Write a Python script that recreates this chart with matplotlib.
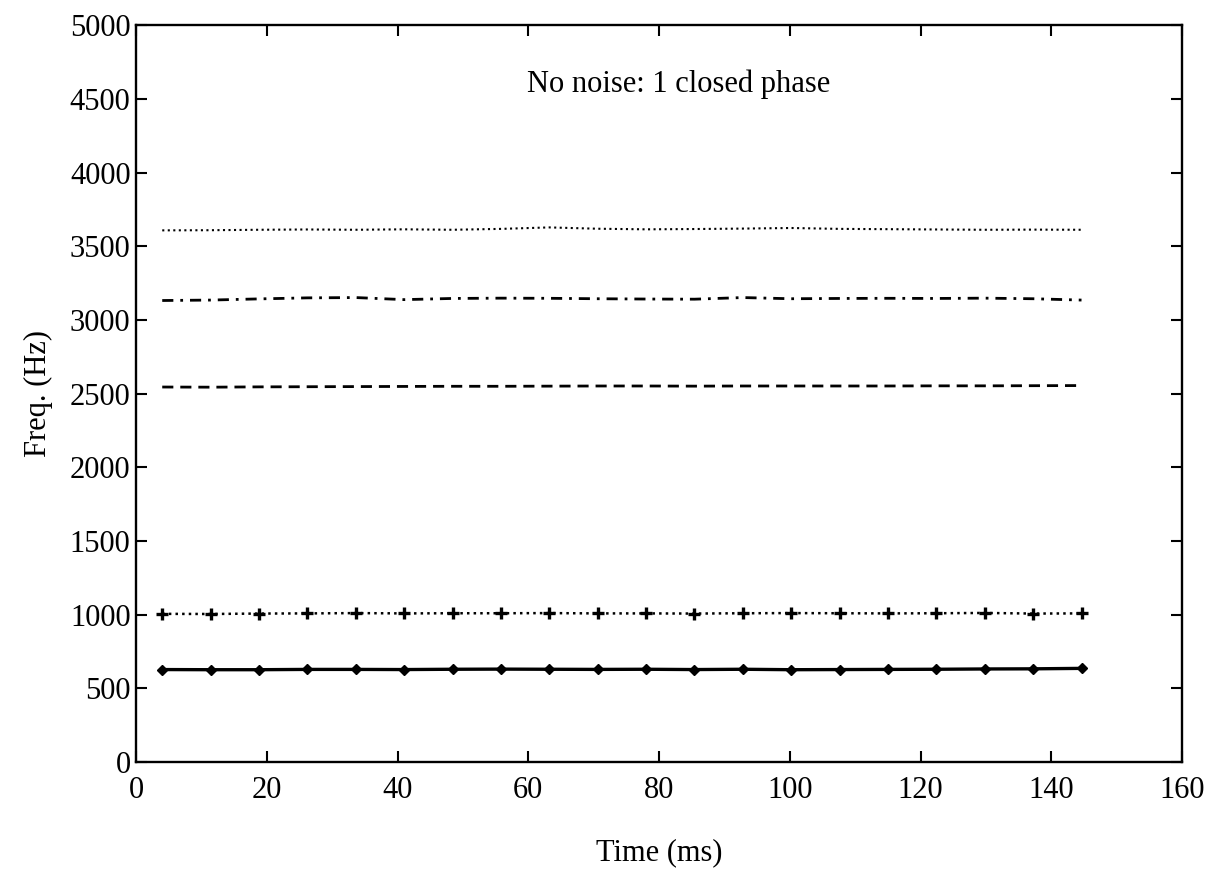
import matplotlib.pyplot as plt

# time axis (ms) for the 20 analysis frames
time_ms = [4, 11.4, 18.8, 26.2, 33.6, 41, 48.4, 55.8, 63.2, 70.6,
           78, 85.4, 92.8, 100.2, 107.6, 115, 122.4, 129.8, 137.2, 144.6]

# formant tracks (Hz)
f1 = [628, 627, 627, 629, 629, 628, 630, 631, 630, 629,
      630, 628, 630, 627, 628, 629, 630, 632, 633, 636]
f2 = [1006, 1005, 1008, 1009, 1011, 1009, 1010, 1010, 1011, 1009,
      1009, 1008, 1010, 1011, 1010, 1009, 1010, 1012, 1008, 1009]
f3 = [2545, 2544, 2546, 2547, 2548, 2549, 2550, 2550, 2551, 2552,
      2552, 2551, 2552, 2552, 2552, 2552, 2553, 2553, 2554, 2555]
f4 = [3132, 3135, 3143, 3150, 3152, 3138, 3146, 3148, 3147, 3144,
      3142, 3141, 3152, 3144, 3146, 3147, 3146, 3148, 3144, 3135]
f5 = [3608, 3609, 3612, 3614, 3612, 3615, 3612, 3618, 3628, 3619,
      3615, 3617, 3620, 3624, 3618, 3616, 3614, 3612, 3613, 3612]

plt.rcParams['font.family'] = ['Liberation Serif', 'DejaVu Serif']
plt.rcParams['font.size'] = 22

fig = plt.figure(figsize=(12.15, 8.69), dpi=100)
ax = fig.add_axes([0.112, 0.123, 0.861, 0.848])

ax.plot(time_ms, f1, 'k-', lw=2.4, marker='D', ms=5.5)
ax.plot(time_ms, f2, 'k:', lw=1.8, marker='+', ms=9, mew=2.4)
ax.plot(time_ms, f3, 'k--', lw=2.0, dashes=(4, 2.5))
ax.plot(time_ms, f4, 'k-.', lw=2.0, dashes=(4, 2.5, 1, 2.5))
ax.plot(time_ms, f5, 'k:', lw=1.5)

ax.set_xlim(0, 160)
ax.set_ylim(0, 5000)
ax.set_xticks(range(0, 161, 20))
ax.set_yticks(range(0, 5001, 500))

for s in ax.spines.values():
    s.set_linewidth(1.7)
ax.tick_params(direction='in', top=True, right=True, length=8, width=1.5)
ax.tick_params(axis='x', pad=10)
ax.tick_params(axis='y', pad=4)

ax.text(83, 4600, 'No noise: 1 closed phase', ha='center', va='center', fontsize=22)
ax.set_xlabel('Time (ms)', labelpad=24)
ax.set_ylabel('Freq. (Hz)', labelpad=12)

fig.savefig('out.png', dpi=100)
